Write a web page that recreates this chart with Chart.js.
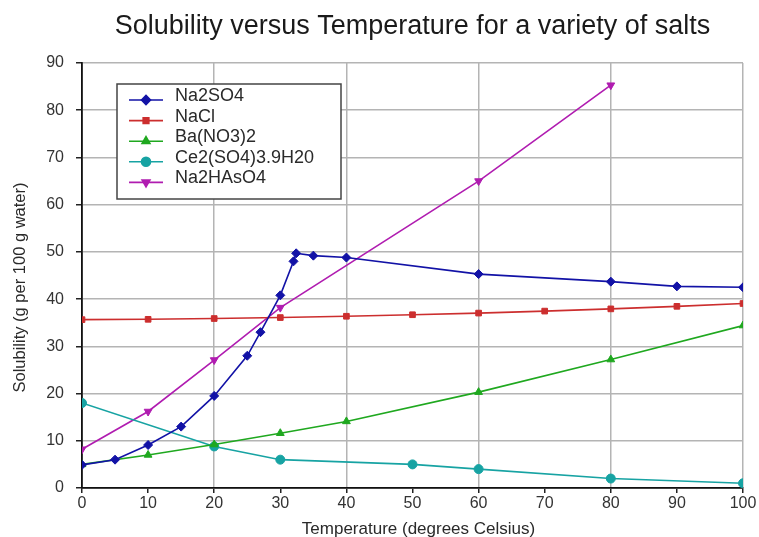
<!DOCTYPE html>
<html>
<head>
<meta charset="utf-8">
<script src="https://cdn.jsdelivr.net/npm/chart.js@4.4.1/dist/chart.umd.min.js"></script>
<style>
  html, body { margin: 0; padding: 0; background: #fff; }
  #wrap { width: 759px; height: 537px; }
</style>
</head>
<body>
<div id="wrap"><canvas id="solubilityChart" width="759" height="537"></canvas></div>
<script>
// solubility data (g per 100 g water)
const na2so4Temps = [0, 5, 10, 15, 20, 25, 27, 30, 32, 32.4, 35, 40, 60, 80, 90, 100];
const na2so4Vals = [4.9, 6, 9.1, 13, 19.5, 28, 33, 40.8, 48, 49.7, 49.2, 48.8, 45.3, 43.7, 42.7, 42.5];

const naclTemps = [0, 10, 20, 30, 40, 50, 60, 70, 80, 90, 100];
const naclVals = [35.65, 35.72, 35.89, 36.09, 36.37, 36.69, 37.04, 37.46, 37.93, 38.47, 39.07];

const bano3Temps = [0, 10, 20, 30, 40, 60, 80, 100];
const bano3Vals = [5.0, 7.0, 9.2, 11.6, 14.1, 20.3, 27.2, 34.4];

const ce2so4Temps = [0, 20, 30, 50, 60, 80, 100];
const ce2so4Vals = [18.0, 8.8, 6.0, 5.0, 4.0, 2.0, 1.0];

const na2hasTemps = [0, 10, 20, 30, 60, 80];
const na2hasVals = [8.2, 16.2, 27.1, 38.2, 65, 85.3];

const seriesNames = ['Na2SO4', 'NaCl', 'Ba(NO3)2', 'Ce2(SO4)3.9H20', 'Na2HAsO4'];

const chartTitle = 'Solubility versus Temperature for a variety of salts';
const xTitle = 'Temperature (degrees Celsius)';
const yTitle = 'Solubility (g per 100 g water)';

const FONT = '"Liberation Sans", Arial, sans-serif';

const toPoints = (xs, ys) => xs.map((x, i) => ({ x: x, y: ys[i] }));

const makeSet = (label, xs, ys, color, style, rot) => ({
    label: label,
    data: toPoints(xs, ys),
    borderColor: color,
    backgroundColor: color,
    borderWidth: 1.6,
    pointStyle: style,
    pointRotation: rot || 0,
    pointRadius: style === 'rect' ? 4 : 4.5,
    pointBorderWidth: 1,
    tension: 0,
    fill: false
});

const datasets = [
    makeSet(seriesNames[0], na2so4Temps, na2so4Vals, '#1212a6', 'rectRot'),
    makeSet(seriesNames[1], naclTemps, naclVals, '#cc2e2e', 'rect'),
    makeSet(seriesNames[2], bano3Temps, bano3Vals, '#1fa81f', 'triangle'),
    makeSet(seriesNames[3], ce2so4Temps, ce2so4Vals, '#17a3a3', 'circle'),
    makeSet(seriesNames[4], na2hasTemps, na2hasVals, '#b01cb0', 'triangle', 180)
];

// chart title + axis titles, placed like the original
const textLayer = {
    id: 'textLayer',
    afterDraw(chart) {
        const ctx = chart.ctx;
        const area = chart.chartArea;
        ctx.save();
        ctx.fillStyle = '#1a1a1a';
        ctx.textAlign = 'center';
        ctx.textBaseline = 'alphabetic';
        ctx.font = '27px ' + FONT;
        ctx.fillText(chartTitle, (area.left + area.right) / 2, 34);
        ctx.fillStyle = '#2a2a2a';
        ctx.font = '17px ' + FONT;
        ctx.fillText(xTitle, (area.left + area.right) / 2 + 6, 534);
        ctx.translate(24.5, (area.top + area.bottom) / 2 + 12);
        ctx.rotate(-Math.PI / 2);
        ctx.font = '16.5px ' + FONT;
        ctx.fillText(yTitle, 0, 0);
        ctx.restore();
    }
};

// legend box inside the plot
const insideLegend = {
    id: 'insideLegend',
    afterDraw(chart) {
        const ctx = chart.ctx;
        const x0 = 117, y0 = 84, w = 224, h = 115;
        ctx.save();
        ctx.fillStyle = '#fff';
        ctx.fillRect(x0, y0, w, h);
        ctx.strokeStyle = '#444';
        ctx.lineWidth = 1.5;
        ctx.strokeRect(x0, y0, w, h);
        ctx.font = '18px ' + FONT;
        ctx.textBaseline = 'alphabetic';
        chart.data.datasets.forEach((ds, i) => {
            const y = 100 + i * 20.6;
            ctx.strokeStyle = ds.borderColor;
            ctx.lineWidth = 1.6;
            ctx.beginPath();
            ctx.moveTo(129, y);
            ctx.lineTo(163, y);
            ctx.stroke();
            ctx.fillStyle = ds.backgroundColor;
            Chart.helpers.drawPoint(ctx, {
                pointStyle: ds.pointStyle,
                rotation: ds.pointRotation,
                radius: ds.pointRadius,
                borderWidth: 1
            }, 146, y);
            ctx.fillStyle = '#2a2a2a';
            ctx.fillText(seriesNames[i], 175, y + 1);
        });
        ctx.restore();
    }
};

const ctx = document.getElementById('solubilityChart').getContext('2d');
const solubilityChart = new Chart(ctx, {
    type: 'line',
    data: { datasets: datasets },
    options: {
        responsive: false,
        animation: false,
        layout: { padding: { left: 4, right: 16, top: 63, bottom: 0 } },
        plugins: {
            legend: { display: false },
            tooltip: { enabled: false },
            title: { display: false }
        },
        scales: {
            x: {
                type: 'linear',
                min: 0,
                max: 100,
                ticks: {
                    stepSize: 10,
                    color: '#333',
                    font: { family: FONT, size: 16 },
                    padding: 1
                },
                grid: {
                    color: c => (c.tick && c.tick.value % 20 === 0) ? '#b4b4b4' : 'rgba(0,0,0,0)',
                    tickColor: '#222',
                    tickLength: 5,
                    lineWidth: 1.5
                },
                border: { color: '#111', width: 1.8 },
                afterFit: s => { s.height = 49; }
            },
            y: {
                min: 0,
                max: 90,
                ticks: {
                    stepSize: 10,
                    color: '#333',
                    font: { family: FONT, size: 16 },
                    padding: 12
                },
                grid: {
                    color: '#b4b4b4',
                    tickColor: '#222',
                    tickLength: 6,
                    lineWidth: 1.5
                },
                border: { color: '#111', width: 1.8 },
                afterFit: s => { s.width = 78; }
            }
        }
    },
    plugins: [textLayer, insideLegend]
});
</script>
</body>
</html>
